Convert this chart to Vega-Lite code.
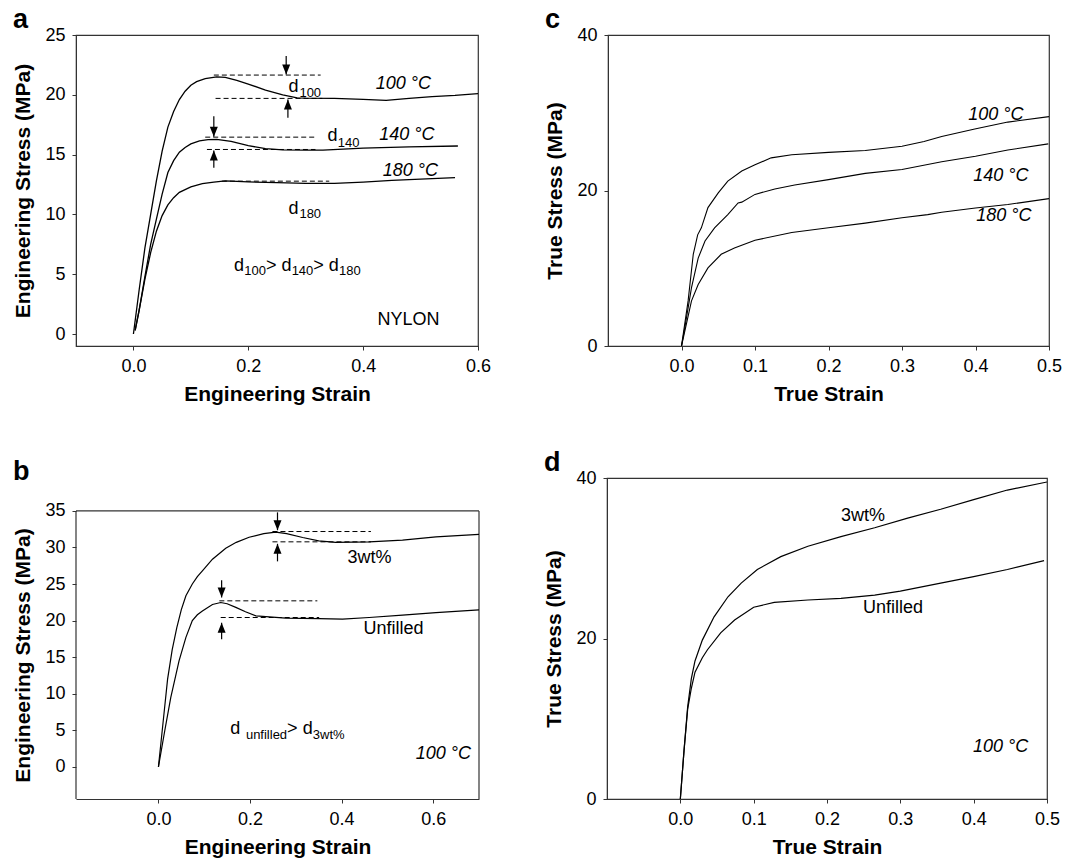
{
  "$schema": "https://vega.github.io/schema/vega-lite/v6.json",
  "padding": {"left": 12, "top": 5, "right": 0, "bottom": 0},
  "background": "white",
  "config": {
    "font": "Liberation Sans",
    "view": {"stroke": "#333", "strokeWidth": 1.2},
    "axis": {"grid": false, "labelFont": "Liberation Sans", "labelFontSize": 18, "labelColor": "#000", "titleFont": "Liberation Sans", "titleFontSize": 21, "titleFontWeight": "bold", "titleColor": "#000", "tickSize": 4, "tickColor": "#333", "domainColor": "#333", "labelPadding": 7, "labelFlush": false, "labelOverlap": false},
    "axisX": {"titlePadding": 8},
    "axisY": {"titlePadding": 11},
    "title": {"font": "Liberation Sans", "fontSize": 27, "fontWeight": "bold", "anchor": "start", "frame": "bounds", "baseline": "alphabetic", "color": "#000", "offset": -8}
  },
  "datasets": {
    "curvesA": [
      {"s": "100", "x": 0, "y": 0}, {"s": "100", "x": 0.01, "y": 3.7}, {"s": "100", "x": 0.02, "y": 7.2}, {"s": "100", "x": 0.03, "y": 10.0}, {"s": "100", "x": 0.04, "y": 12.8}, {"s": "100", "x": 0.05, "y": 15.3}, {"s": "100", "x": 0.06, "y": 17.3}, {"s": "100", "x": 0.07, "y": 18.6}, {"s": "100", "x": 0.08, "y": 19.6}, {"s": "100", "x": 0.09, "y": 20.3}, {"s": "100", "x": 0.1, "y": 20.8}, {"s": "100", "x": 0.11, "y": 21.1}, {"s": "100", "x": 0.125, "y": 21.35}, {"s": "100", "x": 0.145, "y": 21.5}, {"s": "100", "x": 0.16, "y": 21.45}, {"s": "100", "x": 0.18, "y": 21.2}, {"s": "100", "x": 0.2, "y": 20.9}, {"s": "100", "x": 0.23, "y": 20.4}, {"s": "100", "x": 0.26, "y": 20.0}, {"s": "100", "x": 0.285, "y": 19.75}, {"s": "100", "x": 0.3, "y": 19.72}, {"s": "100", "x": 0.35, "y": 19.7}, {"s": "100", "x": 0.4, "y": 19.62}, {"s": "100", "x": 0.44, "y": 19.53}, {"s": "100", "x": 0.48, "y": 19.7}, {"s": "100", "x": 0.52, "y": 19.85}, {"s": "100", "x": 0.56, "y": 19.95}, {"s": "100", "x": 0.6, "y": 20.1},
      {"s": "140", "x": 0.003, "y": 0.3}, {"s": "140", "x": 0.01, "y": 2.0}, {"s": "140", "x": 0.02, "y": 4.8}, {"s": "140", "x": 0.03, "y": 7.5}, {"s": "140", "x": 0.04, "y": 9.6}, {"s": "140", "x": 0.05, "y": 11.7}, {"s": "140", "x": 0.06, "y": 13.5}, {"s": "140", "x": 0.07, "y": 14.5}, {"s": "140", "x": 0.08, "y": 15.2}, {"s": "140", "x": 0.09, "y": 15.6}, {"s": "140", "x": 0.1, "y": 15.9}, {"s": "140", "x": 0.115, "y": 16.15}, {"s": "140", "x": 0.13, "y": 16.25}, {"s": "140", "x": 0.145, "y": 16.28}, {"s": "140", "x": 0.17, "y": 16.1}, {"s": "140", "x": 0.2, "y": 15.75}, {"s": "140", "x": 0.23, "y": 15.5}, {"s": "140", "x": 0.26, "y": 15.4}, {"s": "140", "x": 0.3, "y": 15.37}, {"s": "140", "x": 0.33, "y": 15.38}, {"s": "140", "x": 0.4, "y": 15.55}, {"s": "140", "x": 0.48, "y": 15.65}, {"s": "140", "x": 0.565, "y": 15.72},
      {"s": "180", "x": 0.003, "y": 0.3}, {"s": "180", "x": 0.01, "y": 2.0}, {"s": "180", "x": 0.02, "y": 4.6}, {"s": "180", "x": 0.03, "y": 6.8}, {"s": "180", "x": 0.04, "y": 8.6}, {"s": "180", "x": 0.05, "y": 9.9}, {"s": "180", "x": 0.06, "y": 10.8}, {"s": "180", "x": 0.07, "y": 11.4}, {"s": "180", "x": 0.08, "y": 11.85}, {"s": "180", "x": 0.1, "y": 12.3}, {"s": "180", "x": 0.12, "y": 12.57}, {"s": "180", "x": 0.14, "y": 12.7}, {"s": "180", "x": 0.16, "y": 12.8}, {"s": "180", "x": 0.2, "y": 12.72}, {"s": "180", "x": 0.25, "y": 12.65}, {"s": "180", "x": 0.3, "y": 12.6}, {"s": "180", "x": 0.35, "y": 12.6}, {"s": "180", "x": 0.4, "y": 12.7}, {"s": "180", "x": 0.45, "y": 12.85}, {"s": "180", "x": 0.5, "y": 12.95}, {"s": "180", "x": 0.56, "y": 13.07}
    ],
    "textA": [
      {"x": 0.422, "y": 20.5, "t": "100 °C", "k": "ital"},
      {"x": 0.428, "y": 16.2, "t": "140 °C", "k": "ital"},
      {"x": 0.434, "y": 13.2, "t": "180 °C", "k": "ital"},
      {"x": 0.27, "y": 20.26, "t": "d", "k": "lab"}, {"x": 0.289, "y": 19.81, "t": "100", "k": "sub"},
      {"x": 0.338, "y": 16.13, "t": "d", "k": "lab"}, {"x": 0.356, "y": 15.65, "t": "140", "k": "sub"},
      {"x": 0.27, "y": 10.04, "t": "d", "k": "lab"}, {"x": 0.289, "y": 9.71, "t": "180", "k": "sub"},
      {"x": 0.175, "y": 5.3, "t": "d", "k": "lab"}, {"x": 0.193, "y": 4.91, "t": "100", "k": "sub"},
      {"x": 0.231, "y": 5.3, "t": "> d", "k": "lab"}, {"x": 0.2755, "y": 4.91, "t": "140", "k": "sub"},
      {"x": 0.313, "y": 5.3, "t": "> d", "k": "lab"}, {"x": 0.358, "y": 4.91, "t": "180", "k": "sub"},
      {"x": 0.425, "y": 0.73, "t": "NYLON", "k": "lab"}
    ],
    "dashA": [
      {"x": 0.14, "x2": 0.326, "y": 21.65}, {"x": 0.143, "x2": 0.329, "y": 19.7},
      {"x": 0.125, "x2": 0.315, "y": 16.46}, {"x": 0.128, "x2": 0.317, "y": 15.43},
      {"x": 0.154, "x2": 0.341, "y": 12.78}
    ],
    "arrowA": [
      {"x": 0.266, "y": 23.24, "y2": 21.7, "dir": "down"}, {"x": 0.269, "y": 18.08, "y2": 19.6, "dir": "up"},
      {"x": 0.14, "y": 18.2, "y2": 16.5, "dir": "down"}, {"x": 0.14, "y": 13.9, "y2": 15.35, "dir": "up"}
    ],
    "curvesC": [
      {"s": "100", "x": 0, "y": 0}, {"s": "100", "x": 0.009, "y": 5.8}, {"s": "100", "x": 0.016, "y": 11.8}, {"s": "100", "x": 0.022, "y": 14.3}, {"s": "100", "x": 0.027, "y": 15.2}, {"s": "100", "x": 0.036, "y": 17.8}, {"s": "100", "x": 0.05, "y": 19.7}, {"s": "100", "x": 0.063, "y": 21.2}, {"s": "100", "x": 0.082, "y": 22.5}, {"s": "100", "x": 0.1, "y": 23.3}, {"s": "100", "x": 0.122, "y": 24.2}, {"s": "100", "x": 0.15, "y": 24.6}, {"s": "100", "x": 0.2, "y": 24.9}, {"s": "100", "x": 0.25, "y": 25.15}, {"s": "100", "x": 0.3, "y": 25.7}, {"s": "100", "x": 0.33, "y": 26.3}, {"s": "100", "x": 0.354, "y": 26.95}, {"s": "100", "x": 0.399, "y": 27.9}, {"s": "100", "x": 0.444, "y": 28.8}, {"s": "100", "x": 0.5, "y": 29.5},
      {"s": "140", "x": 0, "y": 0}, {"s": "140", "x": 0.0045, "y": 2.35}, {"s": "140", "x": 0.0136, "y": 7.5}, {"s": "140", "x": 0.0227, "y": 11.3}, {"s": "140", "x": 0.032, "y": 13.5}, {"s": "140", "x": 0.045, "y": 15.2}, {"s": "140", "x": 0.063, "y": 16.9}, {"s": "140", "x": 0.077, "y": 18.4}, {"s": "140", "x": 0.082, "y": 18.5}, {"s": "140", "x": 0.1, "y": 19.5}, {"s": "140", "x": 0.127, "y": 20.2}, {"s": "140", "x": 0.154, "y": 20.7}, {"s": "140", "x": 0.2, "y": 21.4}, {"s": "140", "x": 0.25, "y": 22.2}, {"s": "140", "x": 0.3, "y": 22.7}, {"s": "140", "x": 0.354, "y": 23.7}, {"s": "140", "x": 0.4, "y": 24.4}, {"s": "140", "x": 0.444, "y": 25.2}, {"s": "140", "x": 0.499, "y": 26.0},
      {"s": "180", "x": 0, "y": 0}, {"s": "180", "x": 0.0045, "y": 1.9}, {"s": "180", "x": 0.0136, "y": 5.8}, {"s": "180", "x": 0.0227, "y": 7.9}, {"s": "180", "x": 0.036, "y": 10.05}, {"s": "180", "x": 0.054, "y": 11.8}, {"s": "180", "x": 0.072, "y": 12.6}, {"s": "180", "x": 0.1, "y": 13.6}, {"s": "180", "x": 0.15, "y": 14.6}, {"s": "180", "x": 0.2, "y": 15.2}, {"s": "180", "x": 0.25, "y": 15.8}, {"s": "180", "x": 0.3, "y": 16.5}, {"s": "180", "x": 0.335, "y": 16.9}, {"s": "180", "x": 0.354, "y": 17.2}, {"s": "180", "x": 0.4, "y": 17.75}, {"s": "180", "x": 0.444, "y": 18.2}, {"s": "180", "x": 0.5, "y": 18.95}
    ],
    "textC": [
      {"x": 0.39, "y": 29.1, "t": "100 °C", "k": "ital"},
      {"x": 0.397, "y": 21.26, "t": "140 °C", "k": "ital"},
      {"x": 0.401, "y": 16.04, "t": "180 °C", "k": "ital"}
    ],
    "curvesB": [
      {"s": "3wt", "x": 0, "y": 0}, {"s": "3wt", "x": 0.01, "y": 6}, {"s": "3wt", "x": 0.02, "y": 12}, {"s": "3wt", "x": 0.03, "y": 16}, {"s": "3wt", "x": 0.04, "y": 19}, {"s": "3wt", "x": 0.05, "y": 21.5}, {"s": "3wt", "x": 0.06, "y": 23.4}, {"s": "3wt", "x": 0.074, "y": 25}, {"s": "3wt", "x": 0.085, "y": 26}, {"s": "3wt", "x": 0.096, "y": 26.8}, {"s": "3wt", "x": 0.118, "y": 28.4}, {"s": "3wt", "x": 0.147, "y": 29.9}, {"s": "3wt", "x": 0.17, "y": 30.7}, {"s": "3wt", "x": 0.198, "y": 31.4}, {"s": "3wt", "x": 0.23, "y": 31.9}, {"s": "3wt", "x": 0.256, "y": 32.1}, {"s": "3wt", "x": 0.28, "y": 31.9}, {"s": "3wt", "x": 0.315, "y": 31.36}, {"s": "3wt", "x": 0.35, "y": 30.9}, {"s": "3wt", "x": 0.387, "y": 30.7}, {"s": "3wt", "x": 0.46, "y": 30.77}, {"s": "3wt", "x": 0.533, "y": 31.0}, {"s": "3wt", "x": 0.606, "y": 31.45}, {"s": "3wt", "x": 0.7, "y": 31.8},
      {"s": "unf", "x": 0, "y": 0}, {"s": "unf", "x": 0.014, "y": 5}, {"s": "unf", "x": 0.027, "y": 9.5}, {"s": "unf", "x": 0.045, "y": 14.5}, {"s": "unf", "x": 0.06, "y": 17.7}, {"s": "unf", "x": 0.074, "y": 20}, {"s": "unf", "x": 0.085, "y": 20.8}, {"s": "unf", "x": 0.096, "y": 21.3}, {"s": "unf", "x": 0.118, "y": 22.2}, {"s": "unf", "x": 0.136, "y": 22.47}, {"s": "unf", "x": 0.15, "y": 22.3}, {"s": "unf", "x": 0.169, "y": 21.8}, {"s": "unf", "x": 0.19, "y": 21.2}, {"s": "unf", "x": 0.213, "y": 20.65}, {"s": "unf", "x": 0.278, "y": 20.33}, {"s": "unf", "x": 0.351, "y": 20.28}, {"s": "unf", "x": 0.402, "y": 20.2}, {"s": "unf", "x": 0.46, "y": 20.42}, {"s": "unf", "x": 0.533, "y": 20.74}, {"s": "unf", "x": 0.606, "y": 21.1}, {"s": "unf", "x": 0.7, "y": 21.47}
    ],
    "textB": [
      {"x": 0.413, "y": 27.94, "t": "3wt%", "k": "lab"},
      {"x": 0.448, "y": 18.23, "t": "Unfilled", "k": "lab"},
      {"x": 0.157, "y": 4.47, "t": "d", "k": "lab"}, {"x": 0.191, "y": 3.78, "t": "unfilled", "k": "sub"},
      {"x": 0.281, "y": 4.47, "t": "> d", "k": "lab"}, {"x": 0.337, "y": 3.78, "t": "3wt%", "k": "sub"},
      {"x": 0.562, "y": 1.05, "t": "100 °C", "k": "ital"}
    ],
    "dashB": [
      {"x": 0.249, "x2": 0.464, "y": 32.18}, {"x": 0.249, "x2": 0.464, "y": 30.77},
      {"x": 0.133, "x2": 0.347, "y": 22.7}, {"x": 0.136, "x2": 0.351, "y": 20.42}
    ],
    "arrowB": [
      {"x": 0.26, "y": 34.8, "y2": 32.36, "dir": "down"}, {"x": 0.26, "y": 28.1, "y2": 30.5, "dir": "up"},
      {"x": 0.138, "y": 25.5, "y2": 23.15, "dir": "down"}, {"x": 0.138, "y": 17.46, "y2": 19.7, "dir": "up"}
    ],
    "frameB": [
      {"x": -0.18, "x2": -0.18, "y": -4.4, "y2": 35},
      {"x": 0.7, "x2": 0.7, "y": -4.4, "y2": 35},
      {"x": -0.18, "x2": 0.7, "y": 35, "y2": 35}
    ],
    "curvesD": [
      {"s": "3wt", "x": 0, "y": 0}, {"s": "3wt", "x": 0.005, "y": 6}, {"s": "3wt", "x": 0.01, "y": 11.5}, {"s": "3wt", "x": 0.015, "y": 15}, {"s": "3wt", "x": 0.02, "y": 17.2}, {"s": "3wt", "x": 0.03, "y": 19.8}, {"s": "3wt", "x": 0.046, "y": 22.7}, {"s": "3wt", "x": 0.065, "y": 25.2}, {"s": "3wt", "x": 0.083, "y": 26.9}, {"s": "3wt", "x": 0.105, "y": 28.6}, {"s": "3wt", "x": 0.137, "y": 30.2}, {"s": "3wt", "x": 0.174, "y": 31.5}, {"s": "3wt", "x": 0.219, "y": 32.7}, {"s": "3wt", "x": 0.265, "y": 33.8}, {"s": "3wt", "x": 0.31, "y": 35.0}, {"s": "3wt", "x": 0.355, "y": 36.1}, {"s": "3wt", "x": 0.4, "y": 37.3}, {"s": "3wt", "x": 0.446, "y": 38.5}, {"s": "3wt", "x": 0.5, "y": 39.5},
      {"s": "unf", "x": 0, "y": 0}, {"s": "unf", "x": 0.005, "y": 6}, {"s": "unf", "x": 0.01, "y": 11.2}, {"s": "unf", "x": 0.015, "y": 13.8}, {"s": "unf", "x": 0.02, "y": 15.8}, {"s": "unf", "x": 0.03, "y": 17.6}, {"s": "unf", "x": 0.037, "y": 18.6}, {"s": "unf", "x": 0.055, "y": 20.7}, {"s": "unf", "x": 0.074, "y": 22.3}, {"s": "unf", "x": 0.1, "y": 23.9}, {"s": "unf", "x": 0.128, "y": 24.5}, {"s": "unf", "x": 0.174, "y": 24.8}, {"s": "unf", "x": 0.219, "y": 25.0}, {"s": "unf", "x": 0.265, "y": 25.4}, {"s": "unf", "x": 0.3, "y": 25.9}, {"s": "unf", "x": 0.355, "y": 26.9}, {"s": "unf", "x": 0.4, "y": 27.7}, {"s": "unf", "x": 0.446, "y": 28.6}, {"s": "unf", "x": 0.496, "y": 29.7}
    ],
    "textD": [
      {"x": 0.219, "y": 34.7, "t": "3wt%", "k": "lab"},
      {"x": 0.249, "y": 23.16, "t": "Unfilled", "k": "lab"},
      {"x": 0.399, "y": 5.9, "t": "100 °C", "k": "ital"}
    ]
  },
  "spacing": 43,
  "vconcat": [
    {
      "spacing": 52,
      "hconcat": [
        {
          "width": 402, "height": 311,
          "title": {"text": "a"},
          "encoding": {
            "x": {"field": "x", "type": "quantitative", "title": "Engineering Strain", "scale": {"domain": [-0.1, 0.6], "nice": false, "zero": false}, "axis": {"values": [0, 0.2, 0.4, 0.6], "format": ".1f"}},
            "y": {"field": "y", "type": "quantitative", "title": "Engineering Stress (MPa)", "scale": {"domain": [-1, 25], "nice": false, "zero": false}, "axis": {"values": [0, 5, 10, 15, 20, 25]}}
          },
          "layer": [
            {"data": {"name": "curvesA"}, "mark": {"type": "line", "color": "black", "strokeWidth": 1.3, "clip": true}, "encoding": {"detail": {"field": "s"}}},
            {"data": {"name": "dashA"}, "mark": {"type": "rule", "color": "black", "strokeWidth": 1, "strokeDash": [5, 3]}, "encoding": {"x2": {"field": "x2"}}},
            {"data": {"name": "arrowA"}, "mark": {"type": "rule", "color": "black", "strokeWidth": 1.2}, "encoding": {"y2": {"field": "y2"}}},
            {"data": {"name": "arrowA"}, "mark": {"type": "point", "filled": true, "color": "black", "opacity": 1, "size": 400}, "encoding": {"y": {"field": "y2", "type": "quantitative"}, "shape": {"field": "dir", "type": "nominal", "legend": null, "scale": {"domain": ["down", "up"], "range": ["M0,0L-0.4,-1L0.4,-1Z", "M0,0L-0.4,1L0.4,1Z"]}}}},
            {"data": {"name": "textA"}, "transform": [{"filter": "datum.k == 'lab'"}], "mark": {"type": "text", "align": "left", "baseline": "alphabetic", "fontSize": 18, "color": "black"}, "encoding": {"text": {"field": "t"}}},
            {"data": {"name": "textA"}, "transform": [{"filter": "datum.k == 'ital'"}], "mark": {"type": "text", "align": "left", "baseline": "alphabetic", "fontSize": 18, "fontStyle": "italic", "color": "black"}, "encoding": {"text": {"field": "t"}}},
            {"data": {"name": "textA"}, "transform": [{"filter": "datum.k == 'sub'"}], "mark": {"type": "text", "align": "left", "baseline": "alphabetic", "fontSize": 13, "color": "black"}, "encoding": {"text": {"field": "t"}}}
          ]
        },
        {
          "width": 441, "height": 311,
          "title": {"text": "c"},
          "encoding": {
            "x": {"field": "x", "type": "quantitative", "title": "True Strain", "scale": {"domain": [-0.1, 0.5], "nice": false, "zero": false}, "axis": {"values": [0, 0.1, 0.2, 0.3, 0.4, 0.5], "format": ".1f"}},
            "y": {"field": "y", "type": "quantitative", "title": "True Stress (MPa)", "scale": {"domain": [0, 40], "nice": false, "zero": false}, "axis": {"values": [0, 20, 40]}}
          },
          "layer": [
            {"data": {"name": "curvesC"}, "mark": {"type": "line", "color": "black", "strokeWidth": 1.1, "clip": true}, "encoding": {"detail": {"field": "s"}}},
            {"data": {"name": "textC"}, "mark": {"type": "text", "align": "left", "baseline": "alphabetic", "fontSize": 18, "fontStyle": "italic", "color": "black"}, "encoding": {"text": {"field": "t"}}}
          ]
        }
      ]
    },
    {
      "spacing": 63,
      "hconcat": [
        {
          "width": 403, "height": 321,
          "title": {"text": "b"},
          "view": {"stroke": null},
          "encoding": {
            "x": {"field": "x", "type": "quantitative", "title": "Engineering Strain", "scale": {"domain": [-0.18, 0.7], "nice": false, "zero": false}, "axis": {"values": [0, 0.2, 0.4, 0.6], "format": ".1f"}},
            "y": {"field": "y", "type": "quantitative", "title": "Engineering Stress (MPa)", "scale": {"domain": [-4.4, 39.5], "nice": false, "zero": false}, "axis": {"values": [0, 5, 10, 15, 20, 25, 30, 35], "domain": false, "titleY": 177}}
          },
          "layer": [
            {"data": {"name": "frameB"}, "mark": {"type": "rule", "color": "#333", "strokeWidth": 1.2}, "encoding": {"x2": {"field": "x2"}, "y2": {"field": "y2"}}},
            {"data": {"name": "curvesB"}, "mark": {"type": "line", "color": "black", "strokeWidth": 1.2, "clip": true}, "encoding": {"detail": {"field": "s"}}},
            {"data": {"name": "dashB"}, "mark": {"type": "rule", "color": "black", "strokeWidth": 1, "strokeDash": [5, 3]}, "encoding": {"x2": {"field": "x2"}}},
            {"data": {"name": "arrowB"}, "mark": {"type": "rule", "color": "black", "strokeWidth": 1.2}, "encoding": {"y2": {"field": "y2"}}},
            {"data": {"name": "arrowB"}, "mark": {"type": "point", "filled": true, "color": "black", "opacity": 1, "size": 400}, "encoding": {"y": {"field": "y2", "type": "quantitative"}, "shape": {"field": "dir", "type": "nominal", "legend": null, "scale": {"domain": ["down", "up"], "range": ["M0,0L-0.4,-1L0.4,-1Z", "M0,0L-0.4,1L0.4,1Z"]}}}},
            {"data": {"name": "textB"}, "transform": [{"filter": "datum.k == 'lab'"}], "mark": {"type": "text", "align": "left", "baseline": "alphabetic", "fontSize": 18, "color": "black"}, "encoding": {"text": {"field": "t"}}},
            {"data": {"name": "textB"}, "transform": [{"filter": "datum.k == 'ital'"}], "mark": {"type": "text", "align": "left", "baseline": "alphabetic", "fontSize": 18, "fontStyle": "italic", "color": "black"}, "encoding": {"text": {"field": "t"}}},
            {"data": {"name": "textB"}, "transform": [{"filter": "datum.k == 'sub'"}], "mark": {"type": "text", "align": "left", "baseline": "alphabetic", "fontSize": 13, "color": "black"}, "encoding": {"text": {"field": "t"}}}
          ]
        },
        {
          "width": 440, "height": 321,
          "title": {"text": "d"},
          "encoding": {
            "x": {"field": "x", "type": "quantitative", "title": "True Strain", "scale": {"domain": [-0.1, 0.5], "nice": false, "zero": false}, "axis": {"values": [0, 0.1, 0.2, 0.3, 0.4, 0.5], "format": ".1f"}},
            "y": {"field": "y", "type": "quantitative", "title": "True Stress (MPa)", "scale": {"domain": [0, 40], "nice": false, "zero": false}, "axis": {"values": [0, 20, 40]}}
          },
          "layer": [
            {"data": {"name": "curvesD"}, "mark": {"type": "line", "color": "black", "strokeWidth": 1.2, "clip": true}, "encoding": {"detail": {"field": "s"}}},
            {"data": {"name": "textD"}, "transform": [{"filter": "datum.k == 'lab'"}], "mark": {"type": "text", "align": "left", "baseline": "alphabetic", "fontSize": 18, "color": "black"}, "encoding": {"text": {"field": "t"}}},
            {"data": {"name": "textD"}, "transform": [{"filter": "datum.k == 'ital'"}], "mark": {"type": "text", "align": "left", "baseline": "alphabetic", "fontSize": 18, "fontStyle": "italic", "color": "black"}, "encoding": {"text": {"field": "t"}}}
          ]
        }
      ]
    }
  ]
}
